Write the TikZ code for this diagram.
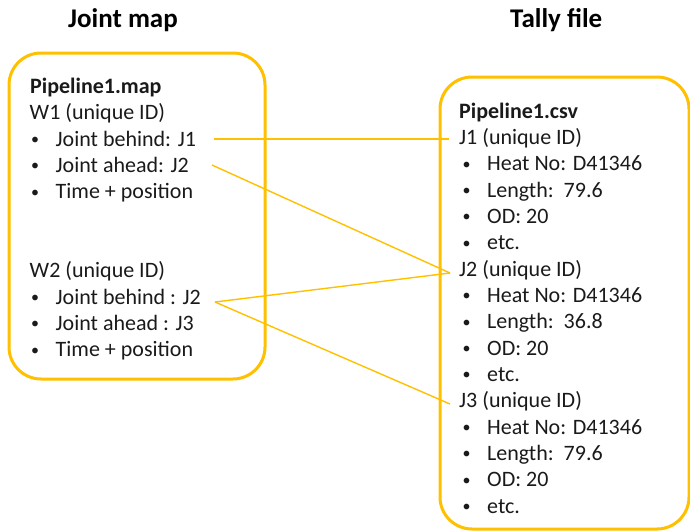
\documentclass[tikz,border=0pt]{standalone}
\usepackage{fontspec}
\setmainfont{Carlito}
\definecolor{gold}{HTML}{FFC000}
\definecolor{ink}{HTML}{1A1A1A}
\newcommand\bitem[4]{%
  \node[dot] (#1dot) at (#2-24.5,#3-1.5) {•};
  \node[txt] (#1) at (#2,#3) {#4};}
\begin{document}
\begin{tikzpicture}[x=1pt,y=-1pt,
  box/.style={draw=gold, line width=3pt, rounded corners=32pt, rectangle, inner sep=0pt},
  txt/.style={anchor=base west, inner sep=0pt, font=\fontsize{22}{26}\selectfont, text=ink},
  dot/.style={txt, font=\fontsize{16}{18}\selectfont},
  hd/.style={txt, font=\fontsize{22}{26}\selectfont\bfseries},
  ttl/.style={anchor=base west, inner sep=0pt, font=\fontsize{27}{32}\selectfont\bfseries, text=black},
  link/.style={draw=gold, line width=1.4pt}]
\useasboundingbox (0,0) rectangle (690,531);

% titles
\node[ttl] (t1) at (68,27) {Joint map};
\node[ttl] (t2) at (510,27) {Tally file};

% boxes
\node[box, minimum width=256pt, minimum height=326pt] (mapbox) at (137,216) {};
\node[box, minimum width=249pt, minimum height=452pt] (csvbox) at (564.5,303) {};

% left box text
\node[hd] (mapname) at (30,93) {Pipeline1.map};
\node[txt] (w1) at (29.5,119.5) {W1 (unique ID)};
\bitem{w1b}{55.5}{146}{Joint behind: J1}
\bitem{w1a}{55.5}{172.2}{Joint ahead: J2}
\bitem{w1t}{55.5}{198.5}{Time + position}
\node[txt] (w2) at (29.5,277.5) {W2 (unique ID)};
\bitem{w2b}{55.5}{304}{Joint behind : J2}
\bitem{w2a}{55.5}{330.2}{Joint ahead : J3}
\bitem{w2t}{55.5}{356.5}{Time + position}

% right box text
\node[hd] (csvname) at (459,118) {Pipeline1.csv};
\node[txt] (j1) at (459,144.3) {J1 (unique ID)};
\bitem{j1h}{487}{170.7}{Heat No: D41346}
\bitem{j1l}{487}{197}{Length:\ \ 79.6}
\bitem{j1o}{487}{223.3}{OD: 20}
\bitem{j1e}{487}{249.7}{etc.}
\node[txt] (j2) at (459,276) {J2 (unique ID)};
\bitem{j2h}{487}{302.3}{Heat No: D41346}
\bitem{j2l}{487}{328.7}{Length:\ \ 36.8}
\bitem{j2o}{487}{355}{OD: 20}
\bitem{j2e}{487}{381.3}{etc.}
\node[txt] (j3) at (459,407.7) {J3 (unique ID)};
\bitem{j3h}{487}{434}{Heat No: D41346}
\bitem{j3l}{487}{460.3}{Length:\ \ 79.6}
\bitem{j3o}{487}{486.7}{OD: 20}
\bitem{j3e}{487}{513}{etc.}

% connector ends
\coordinate (w1bout) at (214,139);
\coordinate (w1aout) at (212,165);
\coordinate (w2bout) at (215,302);
\coordinate (j1in) at (449,139);
\coordinate (j2in) at (450,273);
\coordinate (j3in) at (450,404);

\draw[link] (w1bout) -- (j1in);
\draw[link] (w1aout) -- (j2in);
\draw[link] (w2bout) -- (j2in);
\draw[link] (w2bout) -- (j3in);
\end{tikzpicture}
\end{document}
